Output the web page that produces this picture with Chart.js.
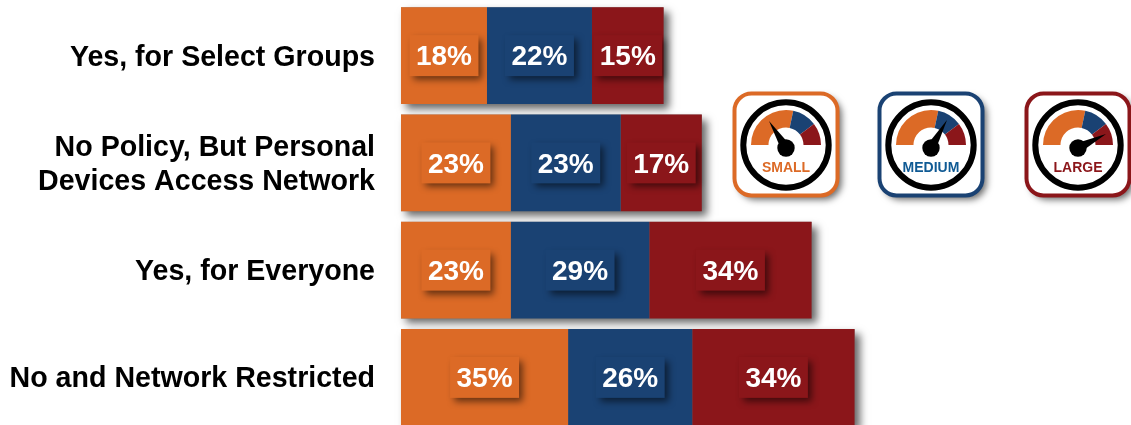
<!DOCTYPE html>
<html>
<head>
<meta charset="utf-8">
<script src="https://cdn.jsdelivr.net/npm/chart.js@4"></script>
<style>
html, body { margin: 0; padding: 0; background: #fff; overflow: hidden; }
#wrap { width: 1131px; height: 425px; overflow: hidden; }
canvas { display: block; }
</style>
</head>
<body>
<div id="wrap"><canvas id="chartPolicy" width="1131" height="433"></canvas></div>
<script>
var categories = ['Yes, for Select Groups', ['No Policy, But Personal', 'Devices Access Network'], 'Yes, for Everyone', 'No and Network Restricted'];
var smallValues = [18, 23, 23, 35];
var mediumValues = [22, 23, 29, 26];
var largeValues = [15, 17, 34, 34];
var sizeNames = ['SMALL', 'MEDIUM', 'LARGE'];

var ORANGE = '#DC6A26', BLUE = '#1A4273', RED = '#8B161A';
var FONT = '"Liberation Sans", Arial, sans-serif';

// drop shadow behind each whole stacked bar
var barShadow = {
    id: 'barShadow',
    beforeDatasetsDraw: function(chart) {
        var ctx = chart.ctx;
        var first = chart.getDatasetMeta(0).data;
        var last = chart.getDatasetMeta(2).data;
        ctx.save();
        ctx.shadowColor = 'rgba(0,0,0,0.6)';
        ctx.shadowBlur = 8;
        ctx.shadowOffsetX = 5;
        ctx.shadowOffsetY = 5;
        ctx.fillStyle = '#777';
        first.forEach(function(bar, i) {
            ctx.fillRect(bar.base, bar.y - bar.height / 2, last[i].x - bar.base, bar.height);
        });
        ctx.restore();
    }
};

// percentage labels sitting on a small raised box
var valueBoxes = {
    id: 'valueBoxes',
    afterDatasetsDraw: function(chart) {
        var ctx = chart.ctx;
        chart.data.datasets.forEach(function(ds, d) {
            chart.getDatasetMeta(d).data.forEach(function(bar, i) {
                var cx = (bar.base + bar.x) / 2, cy = bar.y;
                ctx.save();
                ctx.shadowColor = 'rgba(0,0,0,0.55)';
                ctx.shadowBlur = 7;
                ctx.shadowOffsetX = 4;
                ctx.shadowOffsetY = 4;
                ctx.fillStyle = ds.backgroundColor;
                ctx.fillRect(cx - 34.5, cy - 20.5, 69, 41);
                ctx.restore();
                ctx.fillStyle = '#fff';
                ctx.font = 'bold 28px ' + FONT;
                ctx.textAlign = 'center';
                ctx.textBaseline = 'middle';
                ctx.fillText(ds.data[i] + '%', cx, cy + 2);
            });
        });
    }
};

// the three little gauge badges
function roundRect(ctx, x, y, w, h, r) {
    ctx.beginPath();
    ctx.roundRect(x, y, w, h, r);
}

function drawGauge(ctx, cx, label, color, textColor, tipX, tipY) {
    var rad = Math.PI / 180;
    var cy = 145, hubY = 148;
    ctx.save();
    ctx.shadowColor = 'rgba(0,0,0,0.6)';
    ctx.shadowBlur = 7;
    ctx.shadowOffsetX = 4;
    ctx.shadowOffsetY = 4;
    ctx.fillStyle = '#fff';
    roundRect(ctx, cx - 51.5, 93.5, 103, 102, 17);
    ctx.fill();
    ctx.restore();

    ctx.strokeStyle = color;
    ctx.lineWidth = 4;
    roundRect(ctx, cx - 51.5, 93.5, 103, 102, 17);
    ctx.stroke();

    ctx.strokeStyle = '#000';
    ctx.lineWidth = 6;
    ctx.beginPath();
    ctx.arc(cx, cy, 42.7, 0, Math.PI * 2);
    ctx.stroke();

    [[-180, -78, ORANGE], [-78, -37, BLUE], [-37, 0, RED]].forEach(function(s) {
        ctx.fillStyle = s[2];
        ctx.beginPath();
        ctx.arc(cx, cy, 35, s[0] * rad, s[1] * rad);
        ctx.arc(cx, cy, 17.5, s[1] * rad, s[0] * rad, true);
        ctx.closePath();
        ctx.fill();
    });

    // needle + hub
    var ang = Math.atan2(tipY, tipX) + Math.PI / 2;
    ctx.fillStyle = '#000';
    ctx.beginPath();
    ctx.moveTo(cx + tipX, hubY + tipY);
    ctx.lineTo(cx + Math.cos(ang) * 5, hubY + Math.sin(ang) * 5);
    ctx.lineTo(cx - Math.cos(ang) * 5, hubY - Math.sin(ang) * 5);
    ctx.closePath();
    ctx.fill();
    ctx.beginPath();
    ctx.arc(cx, hubY, 8.7, 0, Math.PI * 2);
    ctx.fill();

    ctx.fillStyle = textColor;
    ctx.font = 'bold 14px ' + FONT;
    ctx.textAlign = 'center';
    ctx.textBaseline = 'middle';
    ctx.fillText(label, cx, 168.5);
}

var gaugeBadges = {
    id: 'gaugeBadges',
    afterDraw: function(chart) {
        var ctx = chart.ctx;
        drawGauge(ctx, 786, sizeNames[0], ORANGE, ORANGE, -17, -27);
        drawGauge(ctx, 931, sizeNames[1], BLUE, '#0F5A94', 16, -28);
        drawGauge(ctx, 1078, sizeNames[2], RED, RED, 28, -14);
    }
};

var ctx = document.getElementById('chartPolicy');
var chartPolicy = new Chart(ctx, {
    type: 'bar',
    data: {
        labels: categories,
        datasets: [
            { label: 'Small', data: smallValues, backgroundColor: ORANGE },
            { label: 'Medium', data: mediumValues, backgroundColor: BLUE },
            { label: 'Large', data: largeValues, backgroundColor: RED }
        ]
    },
    options: {
        indexAxis: 'y',
        responsive: false,
        animation: false,
        layout: { padding: { top: 2, bottom: 2, left: 0, right: 0 } },
        datasets: { bar: { categoryPercentage: 1, barPercentage: 0.9 } },
        plugins: { legend: { display: false }, tooltip: { enabled: false } },
        scales: {
            x: { stacked: true, display: false, min: 0, max: 152.9 },
            y: {
                stacked: true,
                afterFit: function(scale) {
                    scale.width = 401;
                    // no extra room for the first and last label
                    scale.paddingTop = 0;
                    scale.paddingBottom = 0;
                },
                grid: { display: false, drawTicks: false },
                border: { display: false },
                ticks: {
                    color: '#000',
                    padding: 26,
                    labelOffset: 2,
                    font: { family: FONT, size: 28.6, weight: 'bold', lineHeight: 1.2 }
                }
            }
        }
    },
    plugins: [barShadow, valueBoxes, gaugeBadges]
});
</script>
</body>
</html>
